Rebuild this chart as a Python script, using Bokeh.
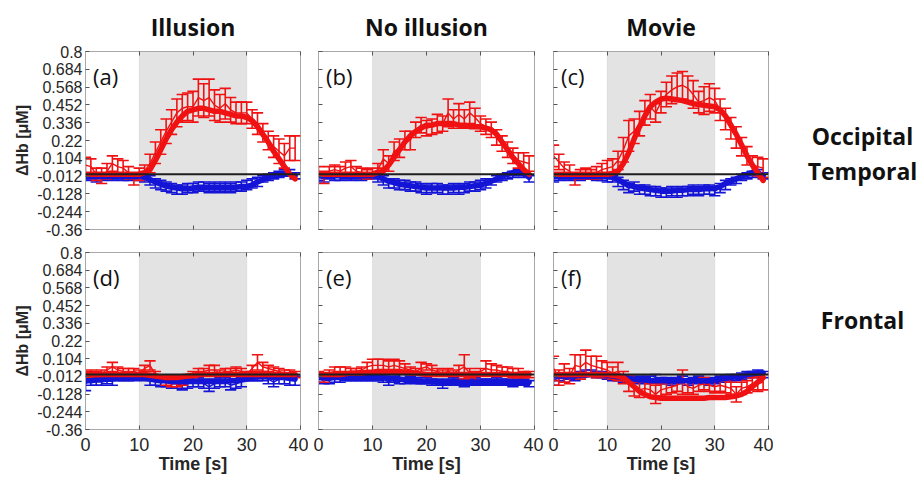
import numpy as np
from bokeh.plotting import figure
from bokeh.models import (BoxAnnotation, Span, Label, ColumnDataSource, FixedTicker,
                          Range1d, CustomJSTickFormatter, LinearAxis)
from bokeh.layouts import row, column
from bokeh.embed import file_html
from bokeh.resources import INLINE
from bokeh.core.properties import value

# ---------------- data ----------------
time_s = [0, 1, 2, 3, 4, 5, 6, 7, 8, 9, 10, 11, 12, 13, 14, 15, 16, 17, 18, 19,
          20, 21, 22, 23, 24, 25, 26, 27, 28, 29, 30, 31, 32, 33, 34, 35, 36, 37, 38, 39]
stim_start = 10
stim_end = 30
col_titles = ["Illusion", "No illusion", "Movie"]
row_labels_top = ["Occipital", "Temporal"]
row_labels_bottom = ["Frontal"]
panel_tags = ["(a)", "(b)", "(c)", "(d)", "(e)", "(f)"]
x_ticks = [0, 10, 20, 30, 40]
y_ticks = [-0.36, -0.244, -0.128, -0.012, 0.104, 0.22, 0.336, 0.452, 0.568, 0.684, 0.8]
y_tick_labels = ["-0.36", "-0.244", "-0.128", "-0.012", "0.104", "0.22", "0.336",
                 "0.452", "0.568", "0.684", "0.8"]

# (a) Illusion, occipital/temporal
hbo_fit_a = [0.00, 0.00, 0.00, 0.00, 0.00, 0.00, 0.00, 0.00, 0.00, 0.00, 0.00, 0.01, 0.03, 0.09, 0.16, 0.23, 0.29, 0.34, 0.38, 0.41,
             0.42, 0.43, 0.43, 0.42, 0.41, 0.41, 0.40, 0.39, 0.38, 0.38, 0.37, 0.35, 0.31, 0.26, 0.21, 0.15, 0.10, 0.05, 0.00, -0.03]
hbo_mean_a = [0.06, 0.05, 0.00, -0.01, 0.02, 0.07, 0.05, 0.04, 0.01, -0.03, 0.00, 0.02, 0.07, 0.14, 0.21, 0.28, 0.34, 0.40, 0.43, 0.44,
              0.44, 0.50, 0.48, 0.50, 0.45, 0.43, 0.46, 0.42, 0.40, 0.40, 0.40, 0.36, 0.33, 0.27, 0.22, 0.18, 0.15, 0.12, 0.17, 0.17]
hbo_err_a = [0.05, 0.05, 0.04, 0.05, 0.05, 0.05, 0.05, 0.05, 0.04, 0.04, 0.04, 0.04, 0.06, 0.07, 0.08, 0.08, 0.08, 0.09, 0.09, 0.09,
             0.10, 0.12, 0.11, 0.12, 0.10, 0.09, 0.10, 0.08, 0.07, 0.07, 0.07, 0.06, 0.07, 0.06, 0.06, 0.07, 0.08, 0.08, 0.08, 0.08]
hbr_fit_a = [-0.015, -0.015, -0.015, -0.015, -0.015, -0.015, -0.015, -0.015, -0.015, -0.015, -0.01, -0.02, -0.035, -0.05, -0.065, -0.075, -0.085, -0.09, -0.095, -0.095,
             -0.09, -0.085, -0.085, -0.085, -0.085, -0.085, -0.085, -0.085, -0.085, -0.08, -0.08, -0.07, -0.05, -0.035, -0.02, -0.01, 0.0, 0.0, 0.0, -0.01]
hbr_mean_a = [-0.02, -0.01, -0.03, -0.02, -0.01, -0.02, -0.01, -0.02, -0.02, -0.01, -0.02, -0.03, -0.04, -0.06, -0.07, -0.08, -0.09, -0.10, -0.10, -0.09,
              -0.09, -0.08, -0.08, -0.09, -0.08, -0.09, -0.08, -0.09, -0.08, -0.08, -0.07, -0.06, -0.05, -0.03, -0.02, -0.01, 0.00, 0.01, 0.01, -0.01]
hbr_err_a = [0.02, 0.02, 0.02, 0.02, 0.02, 0.02, 0.02, 0.02, 0.02, 0.02, 0.02, 0.02, 0.03, 0.03, 0.03, 0.03, 0.03, 0.03, 0.03, 0.03,
             0.03, 0.03, 0.03, 0.03, 0.03, 0.03, 0.03, 0.03, 0.03, 0.03, 0.03, 0.03, 0.03, 0.02, 0.02, 0.02, 0.02, 0.02, 0.02, 0.02]

# (b) No illusion, occipital/temporal
hbo_fit_b = [0.00, 0.00, 0.00, 0.00, 0.00, 0.00, 0.00, 0.00, 0.00, 0.00, 0.00, 0.01, 0.02, 0.06, 0.11, 0.16, 0.21, 0.25, 0.28, 0.30,
             0.32, 0.32, 0.33, 0.33, 0.33, 0.33, 0.32, 0.32, 0.31, 0.31, 0.31, 0.30, 0.29, 0.26, 0.21, 0.16, 0.11, 0.07, 0.03, 0.00]
hbo_mean_b = [0.02, -0.02, 0.02, 0.03, 0.02, 0.04, 0.05, 0.02, 0.01, 0.00, 0.01, 0.03, 0.10, 0.07, 0.15, 0.17, 0.22, 0.22, 0.29, 0.32,
              0.30, 0.31, 0.33, 0.33, 0.40, 0.36, 0.39, 0.36, 0.40, 0.37, 0.33, 0.31, 0.29, 0.24, 0.20, 0.16, 0.12, 0.09, 0.08, 0.07]
hbo_err_b = [0.03, 0.04, 0.03, 0.03, 0.03, 0.04, 0.04, 0.03, 0.03, 0.03, 0.03, 0.04, 0.06, 0.05, 0.06, 0.06, 0.06, 0.06, 0.05, 0.05,
             0.05, 0.05, 0.06, 0.05, 0.09, 0.06, 0.07, 0.06, 0.07, 0.06, 0.05, 0.05, 0.05, 0.05, 0.05, 0.05, 0.05, 0.05, 0.06, 0.05]
hbr_fit_b = [-0.01, -0.01, -0.01, -0.01, -0.01, -0.01, -0.01, -0.01, -0.01, -0.01, -0.01, -0.015, -0.03, -0.045, -0.055, -0.065, -0.07, -0.075, -0.08, -0.085,
             -0.09, -0.09, -0.09, -0.09, -0.09, -0.09, -0.085, -0.085, -0.08, -0.075, -0.07, -0.06, -0.045, -0.03, -0.015, 0.0, 0.01, 0.015, 0.01, -0.02]
hbr_mean_b = [-0.02, -0.03, -0.01, -0.02, -0.02, -0.01, -0.02, -0.01, -0.02, -0.01, -0.01, -0.03, -0.04, -0.06, -0.06, -0.07, -0.07, -0.08, -0.08, -0.09,
              -0.10, -0.09, -0.09, -0.10, -0.10, -0.09, -0.10, -0.09, -0.08, -0.08, -0.07, -0.06, -0.05, -0.03, -0.02, -0.01, 0.00, 0.01, 0.00, -0.03]
hbr_err_b = [0.02, 0.02, 0.02, 0.02, 0.02, 0.02, 0.02, 0.02, 0.02, 0.02, 0.02, 0.02, 0.03, 0.03, 0.03, 0.03, 0.03, 0.03, 0.03, 0.03,
             0.03, 0.03, 0.03, 0.03, 0.03, 0.03, 0.03, 0.03, 0.03, 0.03, 0.03, 0.03, 0.02, 0.02, 0.02, 0.02, 0.02, 0.02, 0.02, 0.02]

# (c) Movie, occipital/temporal
hbo_fit_c = [0.00, 0.00, 0.00, 0.00, 0.00, 0.00, 0.00, 0.00, 0.00, 0.00, 0.00, 0.005, 0.02, 0.07, 0.14, 0.23, 0.31, 0.38, 0.44, 0.47,
             0.49, 0.495, 0.49, 0.485, 0.48, 0.47, 0.46, 0.455, 0.45, 0.445, 0.44, 0.42, 0.38, 0.32, 0.26, 0.19, 0.12, 0.06, 0.01, -0.04]
hbo_mean_c = [0.12, 0.08, 0.04, 0.02, -0.03, 0.00, 0.01, 0.00, 0.01, 0.03, 0.04, 0.05, 0.09, 0.16, 0.25, 0.28, 0.33, 0.40, 0.44, 0.40,
              0.47, 0.52, 0.55, 0.57, 0.58, 0.56, 0.52, 0.47, 0.48, 0.50, 0.48, 0.42, 0.36, 0.30, 0.24, 0.18, 0.12, 0.06, 0.05, 0.04]
hbo_err_c = [0.07, 0.05, 0.04, 0.04, 0.04, 0.03, 0.03, 0.03, 0.04, 0.04, 0.05, 0.05, 0.06, 0.08, 0.10, 0.08, 0.08, 0.08, 0.08, 0.06,
             0.07, 0.08, 0.09, 0.09, 0.09, 0.08, 0.09, 0.07, 0.09, 0.09, 0.08, 0.07, 0.07, 0.07, 0.07, 0.06, 0.06, 0.06, 0.06, 0.06]
hbr_fit_c = [-0.015, -0.015, -0.015, -0.015, -0.015, -0.015, -0.015, -0.015, -0.015, -0.015, -0.015, -0.02, -0.035, -0.055, -0.07, -0.08, -0.09, -0.095, -0.10, -0.105,
             -0.11, -0.11, -0.11, -0.105, -0.105, -0.10, -0.10, -0.10, -0.095, -0.095, -0.09, -0.08, -0.06, -0.045, -0.03, -0.015, 0.0, 0.01, 0.01, -0.01]
hbr_mean_c = [-0.03, -0.02, -0.01, -0.02, -0.01, -0.02, -0.01, -0.01, -0.02, -0.02, -0.03, -0.03, -0.05, -0.07, -0.09, -0.08, -0.10, -0.10, -0.11, -0.11,
              -0.12, -0.12, -0.11, -0.12, -0.11, -0.11, -0.10, -0.11, -0.10, -0.10, -0.11, -0.09, -0.07, -0.05, -0.04, -0.02, -0.01, 0.00, 0.01, -0.01]
hbr_err_c = [0.02, 0.02, 0.02, 0.02, 0.02, 0.02, 0.02, 0.02, 0.02, 0.02, 0.02, 0.02, 0.03, 0.03, 0.03, 0.03, 0.03, 0.03, 0.03, 0.03,
             0.03, 0.03, 0.03, 0.03, 0.03, 0.03, 0.03, 0.03, 0.03, 0.03, 0.03, 0.03, 0.03, 0.02, 0.02, 0.02, 0.02, 0.02, 0.02, 0.02]

# (d) Illusion, frontal
hbo_fit_d = [0.00, 0.00, 0.00, 0.00, 0.00, 0.00, 0.00, 0.00, 0.00, 0.00, 0.00, 0.00, -0.005, -0.01, -0.015, -0.02, -0.02, -0.02, -0.015, -0.01,
             -0.005, 0.00, 0.00, 0.00, 0.00, 0.00, 0.00, 0.00, 0.00, 0.00, 0.00, 0.00, 0.00, 0.00, 0.00, 0.00, 0.00, 0.00, 0.00, 0.00]
hbo_mean_d = [0.00, 0.01, 0.00, 0.01, 0.03, 0.05, 0.03, 0.02, 0.02, 0.02, 0.01, 0.04, 0.06, 0.00, -0.03, -0.05, -0.06, -0.06, -0.05, -0.02,
              0.00, 0.02, 0.02, 0.03, 0.03, 0.01, 0.02, 0.02, 0.03, 0.02, 0.00, 0.04, 0.08, 0.05, 0.04, 0.03, 0.02, 0.01, 0.01, 0.00]
hbo_err_d = [0.02, 0.02, 0.02, 0.02, 0.02, 0.03, 0.02, 0.02, 0.02, 0.02, 0.02, 0.02, 0.03, 0.02, 0.02, 0.02, 0.02, 0.02, 0.02, 0.02,
             0.02, 0.02, 0.02, 0.03, 0.03, 0.02, 0.02, 0.02, 0.02, 0.02, 0.02, 0.02, 0.05, 0.03, 0.02, 0.02, 0.02, 0.02, 0.02, 0.02]
hbr_fit_d = [-0.04, -0.04, -0.035, -0.035, -0.03, -0.03, -0.025, -0.02, -0.02, -0.02, -0.02, -0.025, -0.03, -0.035, -0.04, -0.04, -0.045, -0.045, -0.045, -0.045,
             -0.045, -0.045, -0.045, -0.045, -0.045, -0.045, -0.045, -0.04, -0.04, -0.035, -0.03, -0.02, -0.015, -0.015, -0.015, -0.02, -0.02, -0.02, -0.025, -0.03]
hbr_mean_d = [-0.06, -0.04, -0.04, -0.04, -0.03, -0.04, -0.02, -0.02, -0.02, -0.02, -0.01, -0.02, -0.04, -0.04, -0.05, -0.05, -0.06, -0.06, -0.07, -0.06,
              -0.05, -0.05, -0.06, -0.08, -0.06, -0.05, -0.05, -0.07, -0.06, -0.05, -0.02, -0.02, -0.02, -0.02, -0.03, -0.05, -0.03, -0.03, -0.04, -0.04]
hbr_err_d = [0.045, 0.03, 0.03, 0.03, 0.03, 0.03, 0.02, 0.02, 0.02, 0.02, 0.02, 0.02, 0.03, 0.03, 0.03, 0.03, 0.03, 0.03, 0.03, 0.03,
             0.03, 0.03, 0.03, 0.03, 0.03, 0.03, 0.03, 0.03, 0.03, 0.03, 0.02, 0.02, 0.02, 0.02, 0.03, 0.03, 0.03, 0.03, 0.03, 0.03]

# (e) No illusion, frontal
hbo_fit_e = [0.00, 0.00, 0.00, 0.00, 0.00, 0.005, 0.01, 0.01, 0.01, 0.015, 0.015, 0.02, 0.02, 0.02, 0.02, 0.02, 0.015, 0.01, 0.01, 0.005,
             0.00, 0.00, 0.00, 0.00, 0.00, 0.00, 0.00, 0.00, 0.00, 0.00, 0.00, 0.00, 0.00, 0.00, 0.00, 0.00, 0.00, 0.00, 0.00, 0.00]
hbo_mean_e = [0.00, -0.02, 0.01, 0.02, 0.02, 0.02, 0.01, 0.02, 0.03, 0.05, 0.06, 0.06, 0.06, 0.05, 0.06, 0.05, 0.04, 0.03, 0.02, 0.04,
              0.05, 0.03, 0.02, 0.01, 0.02, 0.01, 0.03, 0.05, 0.01, -0.01, 0.02, 0.04, 0.03, 0.03, 0.02, 0.02, 0.01, 0.01, 0.00, 0.00]
hbo_err_e = [0.02, 0.03, 0.02, 0.03, 0.03, 0.03, 0.03, 0.02, 0.02, 0.03, 0.04, 0.04, 0.04, 0.04, 0.04, 0.04, 0.03, 0.02, 0.02, 0.04,
             0.02, 0.03, 0.02, 0.02, 0.02, 0.02, 0.03, 0.08, 0.03, 0.03, 0.02, 0.05, 0.04, 0.03, 0.03, 0.03, 0.03, 0.03, 0.02, 0.02]
hbr_fit_e = [-0.02, -0.02, -0.02, -0.02, -0.02, -0.02, -0.02, -0.02, -0.02, -0.02, -0.02, -0.02, -0.02, -0.025, -0.03, -0.03, -0.035, -0.04, -0.04, -0.045,
             -0.045, -0.045, -0.05, -0.05, -0.05, -0.05, -0.05, -0.05, -0.05, -0.05, -0.05, -0.05, -0.05, -0.05, -0.05, -0.05, -0.05, -0.05, -0.05, -0.05]
hbr_mean_e = [-0.03, -0.04, -0.04, -0.03, -0.03, -0.02, -0.02, -0.02, -0.02, -0.02, -0.02, -0.02, -0.03, -0.05, -0.03, -0.03, -0.04, -0.03, -0.04, -0.04,
              -0.04, -0.05, -0.05, -0.07, -0.05, -0.04, -0.05, -0.06, -0.05, -0.04, -0.05, -0.05, -0.05, -0.04, -0.05, -0.05, -0.06, -0.05, -0.05, -0.06]
hbr_err_e = [0.02, 0.02, 0.02, 0.02, 0.02, 0.02, 0.02, 0.02, 0.02, 0.02, 0.02, 0.02, 0.02, 0.02, 0.02, 0.03, 0.02, 0.02, 0.02, 0.02,
             0.02, 0.02, 0.02, 0.02, 0.02, 0.02, 0.02, 0.02, 0.02, 0.02, 0.02, 0.02, 0.02, 0.02, 0.02, 0.02, 0.02, 0.02, 0.02, 0.02]

# (f) Movie, frontal
hbo_fit_f = [0.00, 0.00, 0.00, 0.00, 0.00, 0.00, 0.00, 0.00, 0.00, 0.00, 0.00, -0.005, -0.01, -0.02, -0.05, -0.08, -0.11, -0.13, -0.145, -0.15,
             -0.155, -0.155, -0.155, -0.155, -0.155, -0.155, -0.155, -0.155, -0.155, -0.15, -0.15, -0.15, -0.15, -0.145, -0.14, -0.13, -0.11, -0.08, -0.05, -0.02]
hbo_mean_f = [0.04, -0.02, 0.01, -0.01, 0.06, 0.05, 0.08, 0.06, 0.05, 0.04, 0.03, 0.01, 0.02, -0.02, -0.06, -0.09, -0.10, -0.09, -0.10, -0.13,
              -0.10, -0.09, -0.08, -0.07, -0.05, -0.08, -0.09, -0.07, -0.06, -0.07, -0.08, -0.07, -0.08, -0.09, -0.13, -0.09, -0.08, -0.06, -0.06, -0.05]
hbo_err_f = [0.08, 0.05, 0.06, 0.05, 0.07, 0.08, 0.08, 0.06, 0.07, 0.05, 0.05, 0.04, 0.06, 0.04, 0.05, 0.05, 0.05, 0.04, 0.04, 0.06,
             0.04, 0.04, 0.04, 0.04, 0.08, 0.04, 0.04, 0.04, 0.04, 0.04, 0.04, 0.04, 0.04, 0.04, 0.05, 0.04, 0.04, 0.04, 0.05, 0.05]
hbr_fit_f = [-0.01, -0.01, -0.01, -0.01, -0.01, -0.005, -0.005, 0.0, 0.0, 0.0, -0.005, -0.01, -0.015, -0.02, -0.025, -0.03, -0.035, -0.035, -0.04, -0.04,
             -0.04, -0.04, -0.04, -0.04, -0.04, -0.04, -0.04, -0.04, -0.04, -0.04, -0.035, -0.03, -0.025, -0.02, -0.015, -0.01, 0.0, 0.005, 0.01, 0.01]
hbr_mean_f = [-0.04, -0.02, -0.03, -0.01, -0.02, 0.0, 0.01, 0.01, 0.0, 0.0, -0.01, -0.02, -0.02, -0.03, -0.03, -0.04, -0.03, -0.04, -0.03, -0.02,
              -0.04, -0.04, -0.05, -0.04, -0.03, -0.05, -0.04, -0.03, -0.04, -0.05, -0.04, -0.03, -0.03, -0.02, -0.02, -0.01, 0.0, 0.0, 0.01, 0.0]
hbr_err_f = [0.03, 0.02, 0.02, 0.02, 0.02, 0.02, 0.02, 0.02, 0.02, 0.02, 0.02, 0.02, 0.02, 0.02, 0.02, 0.02, 0.02, 0.02, 0.02, 0.02,
             0.02, 0.02, 0.02, 0.02, 0.02, 0.02, 0.02, 0.02, 0.02, 0.02, 0.02, 0.02, 0.02, 0.02, 0.02, 0.02, 0.02, 0.02, 0.02, 0.02]

# ---------------- style ----------------
RED = "#f01212"
BLUE = "#1414d6"
FRAME = "#a8a8a8"
TXT = "#262626"
TICK_FONT = "Liberation Sans"
HEAD_FONT = "Open Sans"
CAP_HALF = 1.05  # seconds

ytick_fmt = CustomJSTickFormatter(args=dict(tvals=y_ticks, tlabels=y_tick_labels), code="""
for (let i = 0; i < tvals.length; i++) { if (Math.abs(tvals[i] - tick) < 1e-6) return tlabels[i]; }
return '';
""")


def blank_fmt():
    return CustomJSTickFormatter(code="return '';")


def add_series(p, mean, err, color):
    t = np.array(time_s, dtype=float)
    m = np.array(mean)
    e = np.array(err)
    src = ColumnDataSource(dict(t=t, m=m, lo=m - e, hi=m + e, cl=t - CAP_HALF, cr=t + CAP_HALF))
    p.segment(x0="t", y0="lo", x1="t", y1="hi", source=src, line_color=color, line_width=1.6)
    p.segment(x0="cl", y0="hi", x1="cr", y1="hi", source=src, line_color=color, line_width=1.6)
    p.segment(x0="cl", y0="lo", x1="cr", y1="lo", source=src, line_color=color, line_width=1.6)
    p.line(x="t", y="m", source=src, line_color=color, line_width=1.4)


def add_fit(p, fit, color):
    p.line(time_s, fit, line_color=color, line_width=5.5, line_join="round", line_cap="round")


def style_axis(ax):
    ax.axis_line_color = FRAME
    ax.major_tick_line_color = "#555555"
    ax.major_tick_in = 4
    ax.major_tick_out = 0
    ax.minor_tick_line_color = None
    ax.major_label_text_color = TXT
    ax.major_label_text_font = TICK_FONT


def panel(idx, series, width, height, bl, br, bt, bb, title=None, show_y=False, show_x=False):
    p = figure(width=width, height=height, x_range=Range1d(0, 40), y_range=Range1d(-0.36, 0.8),
               output_backend="svg", toolbar_location=None,
               min_border_left=bl, min_border_right=br, min_border_top=bt, min_border_bottom=bb)
    p.grid.visible = False
    p.outline_line_color = FRAME
    p.outline_line_width = 1
    p.background_fill_color = "white"
    p.border_fill_color = "white"
    p.add_layout(BoxAnnotation(left=stim_start, right=stim_end, fill_color="#e3e3e3", fill_alpha=1.0,
                               line_color="#bdbdbd", line_width=1, level="underlay"))
    hbo_mean, hbo_err, hbo_fit, hbr_mean, hbr_err, hbr_fit = series
    add_series(p, hbr_mean, hbr_err, BLUE)
    add_series(p, hbo_mean, hbo_err, RED)
    add_fit(p, hbr_fit, BLUE)
    add_fit(p, hbo_fit, RED)
    p.add_layout(Span(location=0, dimension="width", line_color="#1e1e1e", line_width=2))
    p.add_layout(Label(x=1.4, y=0.64, text=panel_tags[idx], text_font=HEAD_FONT,
                       text_font_size="22px", text_baseline="middle", text_align="left",
                       text_color="#111111"))
    bax = p.below[0]
    lax = p.left[0]
    style_axis(bax)
    style_axis(lax)
    bax.ticker = FixedTicker(ticks=x_ticks)
    lax.ticker = FixedTicker(ticks=y_ticks)
    # top axis: inner ticks only (box style)
    top_ax = LinearAxis(ticker=FixedTicker(ticks=x_ticks), formatter=blank_fmt(), major_label_standoff=0)
    style_axis(top_ax)
    p.add_layout(top_ax, "above")
    if show_y:
        lax.formatter = ytick_fmt
        lax.major_label_text_font_size = "16px"
        lax.major_label_standoff = 3
        lax.axis_label = "ΔHb [μM]"
        lax.axis_label_text_font = TICK_FONT
        lax.axis_label_text_font_style = "bold"
        lax.axis_label_text_font_size = "16px"
        lax.axis_label_text_color = TXT
        lax.axis_label_standoff = 3
    else:
        lax.formatter = blank_fmt()
        lax.major_label_standoff = 0
    if show_x:
        bax.major_label_text_font_size = "18px"
        bax.major_label_standoff = 8
        bax.axis_label = "Time [s]"
        bax.axis_label_text_font = TICK_FONT
        bax.axis_label_text_font_style = "bold"
        bax.axis_label_text_font_size = "18px"
        bax.axis_label_text_color = TXT
        bax.axis_label_standoff = 0
    else:
        bax.formatter = blank_fmt()
        bax.major_label_standoff = 0
    if title is not None:
        p.title.text = title
        p.title.align = "center"
        p.title.text_font = HEAD_FONT
        p.title.text_font_style = "bold"
        p.title.text_font_size = "23px"
        p.title.text_color = "#111111"
        p.title.standoff = 17
    return p


def side_labels(texts, ys, width, height):
    p = figure(width=width, height=height, x_range=Range1d(0, width), y_range=Range1d(height, 0),
               output_backend="svg", toolbar_location=None, min_border=0,
               x_axis_location=None, y_axis_location=None)
    p.grid.visible = False
    p.outline_line_color = None
    p.text(x=[89] * len(texts), y=ys, text=texts, text_font=value(HEAD_FONT), text_font_style="bold",
           text_font_size="23px", text_align="center", text_baseline="middle", text_color="#111111")
    return p


TOP_H, BOT_H = 239, 239
series_list = [
    (hbo_mean_a, hbo_err_a, hbo_fit_a, hbr_mean_a, hbr_err_a, hbr_fit_a),
    (hbo_mean_b, hbo_err_b, hbo_fit_b, hbr_mean_b, hbr_err_b, hbr_fit_b),
    (hbo_mean_c, hbo_err_c, hbo_fit_c, hbr_mean_c, hbr_err_c, hbr_fit_c),
    (hbo_mean_d, hbo_err_d, hbo_fit_d, hbr_mean_d, hbr_err_d, hbr_fit_d),
    (hbo_mean_e, hbo_err_e, hbo_fit_e, hbr_mean_e, hbr_err_e, hbr_fit_e),
    (hbo_mean_f, hbo_err_f, hbo_fit_f, hbr_mean_f, hbr_err_f, hbr_fit_f),
]
cols = [(308, 85, 8), (235, 10, 9), (230, 10, 5)]

top = []
bot = []
for c, (w, bl, br) in enumerate(cols):
    top.append(panel(c, series_list[c], w, TOP_H, bl, br, 50, 10, title=col_titles[c], show_y=(c == 0)))
    bot.append(panel(3 + c, series_list[3 + c], w, BOT_H, bl, br, 13, 49, show_y=(c == 0), show_x=True))

top.append(side_labels(row_labels_top, [113, 160], 145, TOP_H))
bot.append(side_labels(row_labels_bottom, [91], 145, BOT_H))

layout = column(row(*top, spacing=0), row(*bot, spacing=0), spacing=0)
open("out.html", "w").write(file_html(layout, INLINE))
